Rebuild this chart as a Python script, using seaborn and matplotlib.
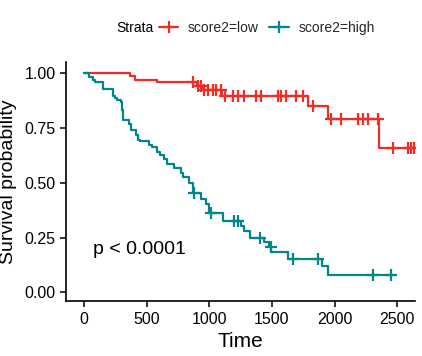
import numpy as np
import pandas as pd
import matplotlib
matplotlib.use("Agg")
import matplotlib.pyplot as plt
import seaborn as sns
from matplotlib.lines import Line2D

# ---- data ----
low_times = [0, 367, 410, 583, 900, 950, 1100, 1788, 1950, 2355, 2640]
low_surv = [1.0, 0.985, 0.970, 0.957, 0.940, 0.920, 0.896, 0.849, 0.788, 0.657, 0.657]
low_censor = [870, 910, 934, 958, 990, 1030, 1054, 1094, 1126, 1190, 1230, 1277,
              1373, 1413, 1549, 1573, 1613, 1693, 1749, 1828, 1972, 2052, 2188,
              2228, 2268, 2348, 2467, 2587, 2611, 2635]

high_times = [0, 42, 75, 88, 154, 229, 245, 261, 295, 305, 314, 357, 375, 415, 430,
              447, 517, 541, 583, 610, 636, 663, 721, 774, 790, 841, 870, 934, 974,
              1000, 1107, 1253, 1275, 1325, 1440, 1480, 1495, 1626, 1897, 1946, 2470]
high_surv = [1.0, 0.980, 0.968, 0.957, 0.925, 0.894, 0.884, 0.877, 0.866, 0.830,
             0.784, 0.769, 0.739, 0.716, 0.693, 0.690, 0.673, 0.662, 0.640, 0.624,
             0.606, 0.583, 0.566, 0.545, 0.524, 0.499, 0.455, 0.425, 0.402, 0.362,
             0.325, 0.303, 0.280, 0.249, 0.231, 0.206, 0.183, 0.154, 0.119, 0.078,
             0.078]
high_censor = [880, 1014, 1200, 1227, 1408, 1493, 1671, 1866, 2305, 2451]

strata = ["score2=low", "score2=high"]
colors = {"score2=low": "#EE2D27", "score2=high": "#00868B"}
x_ticks = [0, 500, 1000, 1500, 2000, 2500]
y_ticks = [0.00, 0.25, 0.50, 0.75, 1.00]
p_text = "p < 0.0001"

# ---- build frames ----
curve = pd.concat([
    pd.DataFrame({"time": low_times, "surv": low_surv, "strata": strata[0]}),
    pd.DataFrame({"time": high_times, "surv": high_surv, "strata": strata[1]}),
], ignore_index=True)

def step_lookup(t, times, surv):
    idx = np.searchsorted(times, t, side="right") - 1
    return np.asarray(surv)[idx]

cens = pd.concat([
    pd.DataFrame({"time": low_censor,
                  "surv": step_lookup(low_censor, low_times, low_surv),
                  "strata": strata[0]}),
    pd.DataFrame({"time": high_censor,
                  "surv": step_lookup(high_censor, high_times, high_surv),
                  "strata": strata[1]}),
], ignore_index=True)

sns.set_theme(style="ticks")
plt.rcParams["font.family"] = ["Liberation Sans", "DejaVu Sans"]

fig = plt.figure(figsize=(4.22, 3.56), dpi=100)
ax = fig.add_axes([0.156, 0.154, 0.827, 0.672])

for s in strata:
    d = curve[curve.strata == s]
    sns.lineplot(data=d, x="time", y="surv", color=colors[s], lw=1.6,
                 drawstyle="steps-post", ax=ax, legend=False, estimator=None,
                 sort=False)
    c = cens[cens.strata == s]
    sns.scatterplot(data=c, x="time", y="surv", color=colors[s], marker="+",
                    s=70, linewidth=1.6, ax=ax, legend=False, zorder=3)

ax.set_xlim(-145, 2640)
ax.set_ylim(-0.04, 1.05)
ax.set_xticks(x_ticks)
ax.set_xticklabels([str(v) for v in x_ticks])
ax.set_yticks(y_ticks)
ax.set_yticklabels([f"{v:.2f}" for v in y_ticks])
ax.tick_params(axis="both", labelsize=11.5, colors="black", direction="out",
               length=4, width=1.1, labelcolor="black")
for sp in ["top", "right"]:
    ax.spines[sp].set_visible(False)
for sp in ["left", "bottom"]:
    ax.spines[sp].set_color("black")
    ax.spines[sp].set_linewidth(1.2)
ax.set_xlabel("Time", fontsize=15, labelpad=4, color="black")
ax.set_ylabel("Survival probability", fontsize=14, labelpad=5, color="black")
ax.grid(False)

ax.text(72, 0.197, p_text, fontsize=14, va="center", ha="left", color="black")

# legend: title text + entries in a row
fig.text(116 / 422, 1 - 28 / 356, "Strata", fontsize=10, ha="left",
         va="center", color="black")
handles = [Line2D([0], [0], color=colors[s], lw=1.6, marker="+", markersize=9,
                  markeredgewidth=1.6) for s in strata]
fig.legend(handles, strata, loc="center left",
           bbox_to_anchor=(159 / 422, 1 - 28 / 356),
           ncol=2, frameon=False, fontsize=10, handlelength=1.4,
           columnspacing=0.75, handletextpad=0.7, borderpad=0.0,
           borderaxespad=0.0)

fig.savefig("out.png", dpi=100)
